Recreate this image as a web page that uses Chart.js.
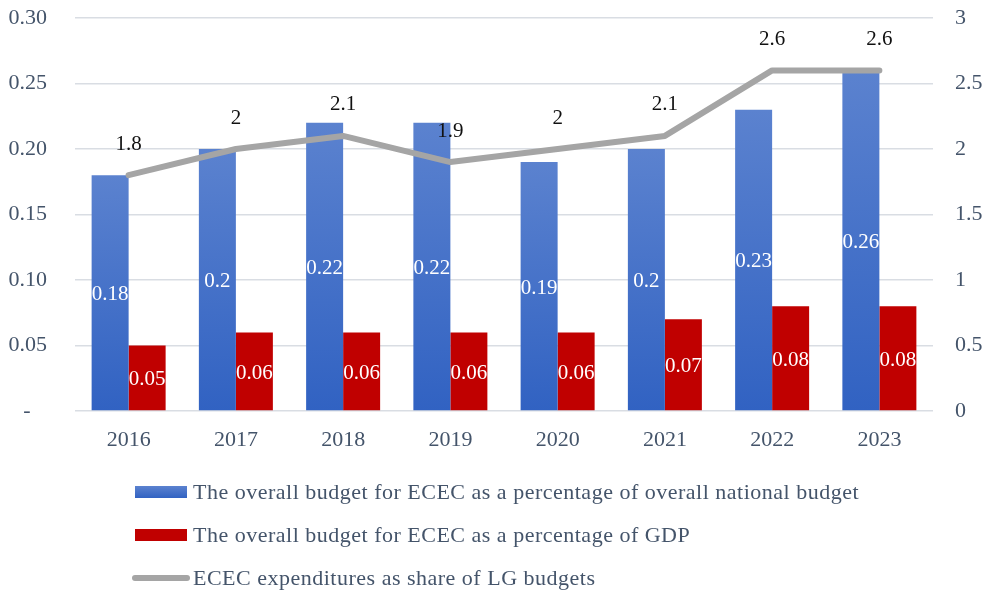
<!DOCTYPE html>
<html>
<head>
<meta charset="utf-8">
<script src="https://cdn.jsdelivr.net/npm/chart.js@4"></script>
<style>
body{margin:0;background:#fff;}
canvas{display:block;}
</style>
</head>
<body>
<canvas id="chart" width="994" height="592"></canvas>
<script>

let years=["2016","2017","2018","2019","2020","2021","2022","2023"];
let nationalPct=[0.18,0.2,0.22,0.22,0.19,0.2,0.23,0.26];
let gdpPct=[0.05,0.06,0.06,0.06,0.06,0.07,0.08,0.08];
let lgShare=[1.8,2,2.1,1.9,2,2.1,2.6,2.6];

let labelNames=[
"The overall budget for ECEC as a percentage of overall national budget",
"The overall budget for ECEC as a percentage of GDP",
"ECEC expenditures as share of LG budgets"
];

let FONT="'Liberation Serif', 'DejaVu Serif', serif";
let TEXT="#44546a";

function blueFill(ctx){
let chart=ctx.chart;
if(!chart.chartArea || ctx.type!=="data") return "#4a74c9";
let y=chart.scales.y;
let top=y.getPixelForValue(ctx.raw);
let bottom=y.getPixelForValue(0);
let g=chart.ctx.createLinearGradient(0,top,0,bottom);
g.addColorStop(0,"#5b82cf");
g.addColorStop(1,"#3162c2");
return g;
}

// value labels on bars and line
let valueLabels={
id:"valueLabels",
afterDatasetsDraw(chart){
let c=chart.ctx;
c.save();
c.font="21px "+FONT;
c.textAlign="center";
c.textBaseline="middle";
chart.data.datasets.forEach((ds,i)=>{
let meta=chart.getDatasetMeta(i);
meta.data.forEach((el,j)=>{
let txt=String(ds.data[j]);
if(ds.type==="line"){
c.fillStyle="#111";
c.fillText(txt,el.x,el.y-31);
}else{
c.fillStyle="#fff";
c.fillText(txt,el.x,(el.y+el.base)/2+2);
}
});
});
c.restore();
}
};

// stacked legend under the chart
let stackLegend={
id:"stackLegend",
afterDraw(chart){
let c=chart.ctx;
let x0=135;
let y0=chart.chartArea.bottom+81;
c.save();
c.font="22px "+FONT;
c.letterSpacing="0.5px";
c.textBaseline="middle";
c.textAlign="left";
chart.data.datasets.slice().sort((a,b)=>a.legendIndex-b.legendIndex).forEach((ds,i)=>{
let y=y0+i*43;
if(ds.type==="line"){
c.strokeStyle=ds.borderColor;
c.lineWidth=6;
c.lineCap="round";
c.beginPath();
c.moveTo(x0,y);
c.lineTo(x0+52,y);
c.stroke();
}else{
if(ds.legendIndex===0){
let g=c.createLinearGradient(0,y-6,0,y+6);
g.addColorStop(0,"#5b82cf");
g.addColorStop(1,"#3162c2");
c.fillStyle=g;
}else{
c.fillStyle=ds.backgroundColor;
}
c.fillRect(x0,y-6,52,12);
}
c.fillStyle=TEXT;
c.fillText(ds.label,x0+58,y+1);
});
c.restore();
}
};

function fixY(width){
return s=>{
s.width=width;
s.paddingTop=0;
s.paddingBottom=0;
};
}

new Chart(document.getElementById("chart"),{
type:"bar",
data:{
labels:years,
datasets:[
{type:"line",label:labelNames[2],data:lgShare,yAxisID:"y2",borderColor:"#a5a5a5",borderWidth:6,
pointRadius:0,borderCapStyle:"round",borderJoinStyle:"round",tension:0,order:0,legendIndex:2},
{label:labelNames[0],data:nationalPct,yAxisID:"y",backgroundColor:blueFill,order:1,legendIndex:0},
{label:labelNames[1],data:gdpPct,yAxisID:"y",backgroundColor:"#c00000",order:1,legendIndex:1}
]
},
options:{
responsive:false,
animation:false,
layout:{padding:{top:18,left:0,right:0,bottom:141}},
datasets:{bar:{categoryPercentage:0.69,barPercentage:1}},
plugins:{legend:{display:false},tooltip:{enabled:false}},
scales:{
x:{
grid:{display:false},
border:{display:false},
ticks:{color:TEXT,font:{family:FONT,size:22},padding:8},
afterFit:s=>{s.height=40;}
},
y:{
position:"left",
min:0,max:0.3,
grid:{color:"#d9dde3",lineWidth:1.5,drawTicks:false},
border:{display:false},
ticks:{stepSize:0.05,color:TEXT,font:{family:FONT,size:22},padding:28,
callback:v=>Math.abs(v)<1e-9?"-   ":v.toFixed(2)},
afterFit:fixY(75)
},
y2:{
position:"right",
min:0,max:3,
grid:{display:false,drawTicks:false},
border:{display:false},
ticks:{stepSize:0.5,color:TEXT,font:{family:FONT,size:22},padding:22,
callback:v=>String(v)},
afterFit:fixY(61)
}
}
},
plugins:[valueLabels,stackLegend]
});

</script>
</body>
</html>
